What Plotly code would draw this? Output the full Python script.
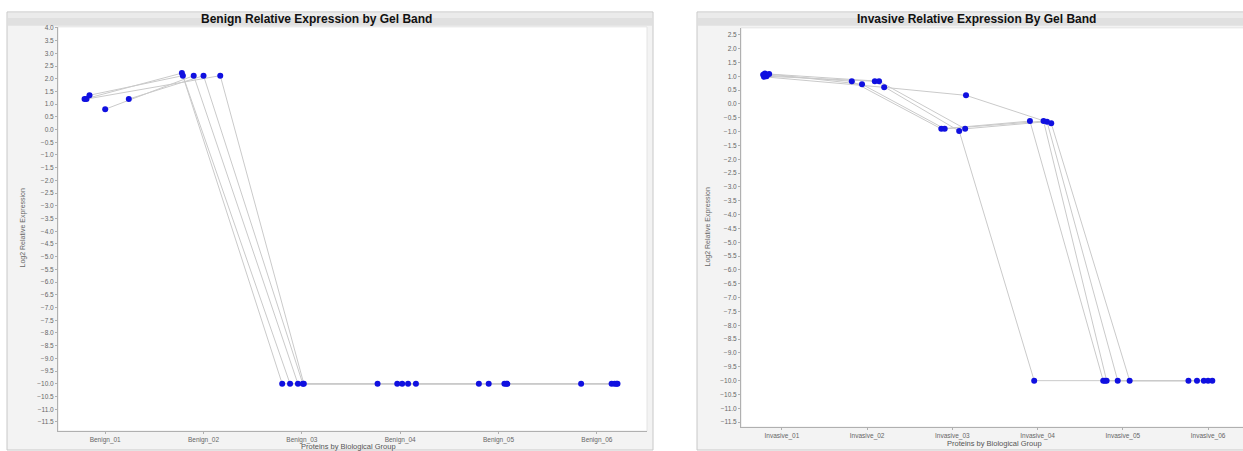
import plotly.graph_objects as go

W, H = 1243, 451

# ---------------- data ----------------
benign_categories = ["Benign_01", "Benign_02", "Benign_03", "Benign_04", "Benign_05", "Benign_06"]
benign_values = [
    [1.20, 2.22, -10.0, -10.0, -10.0, -10.0],
    [1.35, 2.12, -10.0, -10.0, -10.0, -10.0],
    [0.80, 2.12, -10.0, -10.0, -10.0, -10.0],
    [1.20, 2.12, -10.0, -10.0, -10.0, -10.0],
    [1.20, 2.12, -10.0, -10.0, -10.0, -10.0],
]
benign_jitter = [
    [-0.21, -0.22, -0.20, -0.23, -0.20, -0.16],
    [-0.16, -0.21, -0.12, -0.03, -0.10, 0.15],
    [0.00, -0.10, -0.04, 0.02, 0.06, 0.18],
    [0.24, 0.00, 0.01, 0.08, 0.09, 0.21],
    [-0.19, 0.17, 0.02, 0.16, 0.08, 0.20],
]

invasive_categories = ["Invasive_01", "Invasive_02", "Invasive_03", "Invasive_04", "Invasive_05", "Invasive_06"]
invasive_values = [
    [1.05, 0.82, -0.90, -0.62, -10.0, -10.0],
    [1.10, 0.71, -0.90, -0.62, -10.0, -10.0],
    [1.00, 0.82, -0.98, -10.0, -10.0, -10.0],
    [1.08, 0.82, -0.90, -0.64, -10.0, -10.0],
    [0.98, 0.60, 0.31, -0.70, -10.0, -10.0],
]
invasive_jitter = [
    [-0.22, -0.18, -0.13, -0.09, -0.23, -0.23],
    [-0.20, -0.06, -0.09, 0.07, -0.19, -0.13],
    [-0.18, 0.09, 0.08, -0.04, -0.21, -0.05],
    [-0.15, 0.14, 0.15, 0.11, -0.06, 0.00],
    [-0.21, 0.20, 0.16, 0.16, 0.08, 0.05],
]

LINE_COLOR = "#cacaca"
MARKER_COLOR = "#1010e0"
FONT = "Liberation Sans"

fig = go.Figure()


def add_panel(values, jitter, xa, ya):
    xs_all, ys_all = [], []
    for vals, jit in zip(values, jitter):
        xs = [i + j for i, j in enumerate(jit)]
        fig.add_trace(go.Scatter(x=xs, y=vals, mode="lines", xaxis=xa, yaxis=ya,
                                 line=dict(color=LINE_COLOR, width=1), showlegend=False,
                                 hoverinfo="skip"))
        xs_all += xs
        ys_all += vals
    fig.add_trace(go.Scatter(x=xs_all, y=ys_all, mode="markers", xaxis=xa, yaxis=ya,
                             marker=dict(color=MARKER_COLOR, size=6, line=dict(width=0)),
                             showlegend=False))


add_panel(benign_values, benign_jitter, "x", "y")
add_panel(invasive_values, invasive_jitter, "x2", "y2")


def px_x(p):
    return p / W


def px_y(p):
    return 1 - p / H


axis_common = dict(showgrid=False, zeroline=False, showline=True, linecolor="#b0b0b0",
                   linewidth=1, ticks="outside", ticklen=2, tickcolor="#b0b0b0",
                   tickfont=dict(family=FONT, size=6.5, color="#666666"))

fig.update_layout(
    width=W, height=H,
    margin=dict(l=0, r=0, t=0, b=0),
    paper_bgcolor="white",
    plot_bgcolor="white",
    showlegend=False,
    xaxis=dict(domain=[px_x(58), px_x(647)], range=[-0.48, 5.51], anchor="y",
               tickmode="array", tickvals=list(range(len(benign_categories))),
               ticktext=benign_categories, **axis_common),
    yaxis=dict(domain=[px_y(431), px_y(24)], range=[-11.86, 4.04], anchor="x",
               dtick=0.5, tick0=0, tickformat=".1f", **axis_common),
    xaxis2=dict(domain=[px_x(741), 1.0], range=[-0.48, 5.41], anchor="y2",
                tickmode="array", tickvals=list(range(len(invasive_categories))),
                ticktext=invasive_categories, **axis_common),
    yaxis2=dict(domain=[px_y(427), px_y(25)], range=[-11.68, 2.75], anchor="x2",
                dtick=0.5, tick0=0, tickformat=".1f", **axis_common),
)

shapes = []
# panel frames
panels = [((7, 653), (58, 647, 24, 431)), ((697, 1250), (741, 1250, 25, 427))]
for (x0, x1), (px0, px1, py0, py1) in panels:
    shapes.append(dict(type="rect", xref="paper", yref="paper", x0=px_x(x0), x1=px_x(x1),
                       y0=px_y(450), y1=px_y(9), fillcolor="#f3f3f3",
                       line=dict(color="#c8c8c8", width=1), layer="below"))
    # title bar
    shapes.append(dict(type="rect", xref="paper", yref="paper", x0=px_x(x0 + 1), x1=px_x(x1 - 1),
                       y0=px_y(23), y1=px_y(10), fillcolor="#e0e0e0",
                       line=dict(width=0), layer="below"))
    shapes.append(dict(type="rect", xref="paper", yref="paper", x0=px_x(x0 + 1), x1=px_x(x1 - 1),
                       y0=px_y(15), y1=px_y(10), fillcolor="#ebebeb",
                       line=dict(width=0), layer="below"))
    # plot area background
    shapes.append(dict(type="rect", xref="paper", yref="paper", x0=px_x(px0), x1=px_x(px1),
                       y0=px_y(py1), y1=px_y(py0), fillcolor="white",
                       line=dict(color="#e4e4e4", width=1), layer="below"))
fig.update_layout(shapes=shapes)

annotations = [
    dict(text="<b>Benign Relative Expression by Gel Band</b>", x=px_x(316), y=px_y(16.5),
         xref="paper", yref="paper", showarrow=False, xanchor="center", yanchor="middle",
         font=dict(family=FONT, size=12, color="#111111")),
    dict(text="<b>Invasive Relative Expression By Gel Band</b>", x=px_x(976), y=px_y(16.5),
         xref="paper", yref="paper", showarrow=False, xanchor="center", yanchor="middle",
         font=dict(family=FONT, size=12, color="#111111")),
    dict(text="Log2 Relative Expression", x=px_x(23), y=px_y(227), textangle=-90,
         xref="paper", yref="paper", showarrow=False, xanchor="center", yanchor="middle",
         font=dict(family=FONT, size=7, color="#666666")),
    dict(text="Log2 Relative Expression", x=px_x(708), y=px_y(226), textangle=-90,
         xref="paper", yref="paper", showarrow=False, xanchor="center", yanchor="middle",
         font=dict(family=FONT, size=7, color="#666666")),
    dict(text="Proteins by Biological Group", x=px_x(348), y=px_y(446.5),
         xref="paper", yref="paper", showarrow=False, xanchor="center", yanchor="middle",
         font=dict(family=FONT, size=7.5, color="#555555")),
    dict(text="Proteins by Biological Group", x=px_x(994), y=px_y(443.5),
         xref="paper", yref="paper", showarrow=False, xanchor="center", yanchor="middle",
         font=dict(family=FONT, size=7.5, color="#555555")),
]
fig.update_layout(annotations=annotations)

fig.write_html("out.html", config={"displayModeBar": False},
               post_script="document.body.style.margin='0';document.body.style.overflow='hidden';")
